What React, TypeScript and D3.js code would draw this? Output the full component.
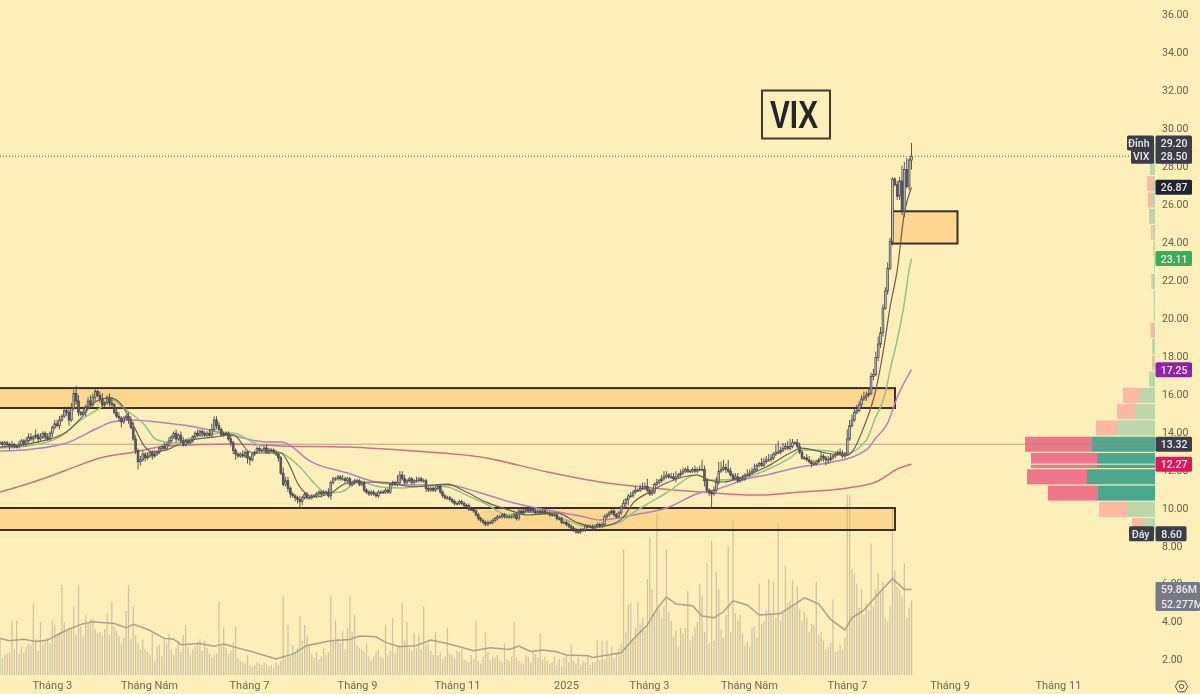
import { useEffect, useRef } from "react";
import * as d3 from "d3";

// session closes, ten sessions per row
const closes = [
  13.4,13.3,13.4,13.3,13.2,13.3,13.2,13.2,13.3,13.5,
  13.3,13.5,13.7,13.6,13.7,13.8,13.6,13.7,13.9,13.7,
  13.6,13.9,14.2,14.4,14.3,14.6,14.8,15.1,15.0,14.6,
  15.2,16.0,15.6,15.0,14.9,15.0,15.3,15.6,15.4,15.8,
  16.1,15.9,15.7,15.4,15.5,15.8,15.5,15.4,15.0,14.8,
  14.7,14.5,14.7,14.8,14.6,14.2,13.6,13.0,12.4,12.5,
  12.8,12.6,12.7,12.9,12.7,12.8,12.9,13.1,13.2,13.1,
  13.3,13.5,13.7,13.9,13.6,13.8,13.5,13.3,13.5,13.4,
  13.5,13.7,13.9,13.8,14.0,13.9,13.8,13.9,13.8,14.1,
  14.6,14.3,14.1,13.8,13.9,13.9,13.6,13.4,13.0,12.8,
  12.7,12.8,12.7,12.9,12.6,12.5,12.8,12.9,13.1,13.0,
  13.0,13.1,12.9,13.0,13.0,12.9,12.8,12.6,11.8,11.2,
  11.4,11.0,10.7,10.6,10.5,10.4,10.3,10.5,10.7,10.5,
  10.5,10.6,10.6,10.7,10.8,10.7,10.8,10.8,10.6,11.3,
  11.5,11.5,11.6,11.5,11.5,11.4,11.5,11.2,11.3,11.4,
  11.4,11.2,11.3,10.9,10.8,10.7,10.8,10.7,10.6,10.8,
  10.8,10.8,10.9,10.8,11.2,11.3,11.2,11.3,11.7,11.5,
  11.3,11.4,11.5,11.3,11.4,11.4,11.5,11.4,11.4,11.0,
  10.9,11.0,10.9,11.0,11.1,10.8,10.6,10.5,10.5,10.4,
  10.3,10.2,10.2,10.3,10.2,10.1,10.1,9.9,9.9,9.8,
  9.6,9.4,9.3,9.2,9.1,9.2,9.2,9.3,9.4,9.5,
  9.5,9.6,9.5,9.5,9.5,9.5,9.6,9.4,9.8,9.7,
  9.8,9.9,9.8,9.9,9.8,9.7,9.8,9.7,9.8,9.7,
  9.7,9.6,9.6,9.6,9.4,9.4,9.2,9.2,9.1,9.0,
  8.9,8.8,8.7,8.7,8.8,8.8,9.0,9.0,9.0,8.9,
  9.0,9.1,9.0,9.1,9.5,9.6,9.7,9.8,9.6,9.5,
  9.7,10.0,10.2,10.4,10.6,10.6,10.8,10.9,10.9,11.0,
  11.0,11.1,10.9,10.7,10.8,11.2,11.3,11.4,11.5,11.6,
  11.7,11.6,11.6,11.5,11.6,11.7,11.8,11.9,12.0,11.9,
  11.9,12.0,11.9,12.0,12.0,12.0,11.4,10.9,10.8,10.7,
  10.9,11.3,11.9,12.0,12.1,12.0,11.9,11.7,11.5,11.6,
  11.4,11.5,11.5,11.7,11.7,11.8,11.9,12.0,12.2,12.3,
  12.2,12.4,12.5,12.5,12.6,12.8,12.9,12.9,13.0,13.1,
  13.2,13.1,13.2,13.4,13.4,13.2,12.9,12.6,12.6,12.5,
  12.4,12.3,12.3,12.4,12.5,12.7,12.6,12.5,12.5,12.6,
  12.7,12.8,12.9,12.8,12.7,12.8,13.6,14.3,14.6,15.0,
  15.1,15.4,15.7,15.8,15.9,16.0,16.9,17.0,17.9,18.6,
  19.2,20.5,21.4,22.6,24.0,27.3,27.0,26.4,27.2,25.6,
  27.8,26.9,28.3,28.5,
];

const wickUp = [
  .1,.1,.1,.1,.1,.2,.1,.1,.2,.1, .1,.2,.2,.2,.1,.3,.1,.2,.1,.1,
  .2,.1,.1,.2,.2,.2,.1,.2,.1,.2, .3,.2,.4,.3,.1,.2,.1,.2,.3,.2,
  .2,.1,.2,.3,.1,.1,.2,.3,.1,.2, .2,.1,.1,.1,.2,.2,.3,.2,.1,.2,
  .2,.1,.2,.1,.1,.2,.1,.1,.1,.2, .1,.2,.1,.1,.2,.1,.2,.2,.1,.1,
  .1,.1,.1,.2,.1,.1,.1,.1,.2,.3, .2,.2,.2,.1,.1,.1,.1,.2,.1,.1,
  .1,.1,.2,.1,.1,.1,.1,.1,.1,.1, .1,.1,.2,.1,.1,.1,.1,.1,.1,.3,
  .2,.2,.1,.1,.1,.1,.2,.1,.1,.1, .1,.1,.1,.1,.1,.1,.1,.1,.2,.1,
  .1,.1,.1,.1,.2,.1,.1,.1,.1,.1, .1,.1,.1,.1,.1,.1,.1,.1,.1,.1,
  .1,.1,.1,.1,.1,.1,.1,.4,.2,.2, .2,.1,.1,.1,.1,.2,.1,.1,.1,.1,
  .1,.1,.1,.1,.1,.1,.1,.1,.1,.1, .1,.1,.1,.1,.1,.1,.1,.1,.1,.1,
  .1,.1,.1,.1,.1,.1,.1,.1,.1,.1, .1,.1,.1,.1,.1,.1,.1,.1,.1,.1,
  .1,.1,.1,.1,.1,.1,.1,.1,.1,.1, .1,.1,.1,.1,.1,.1,.1,.1,.1,.1,
  .1,.1,.1,.1,.1,.1,.1,.1,.1,.1, .1,.1,.1,.1,.1,.1,.1,.1,.1,.1,
  .1,.1,.2,.1,.1,.2,.1,.2,.1,.2, .3,.2,.4,.1,.2,.1,.2,.1,.2,.3,
  .2,.1,.2,.2,.3,.1,.2,.2,.1,.2, .1,.1,.2,.1,.2,.5,.2,.1,.1,.1,
  .2,.3,.5,.4,.4,.2,.5,.2,.1,.2, .2,.1,.2,.1,.3,.2,.2,.3,.1,.1,
  .3,.2,.2,.3,.2,.1,.4,.6,.2,.3, .2,.3,.4,.2,.1,.2,.2,.1,.1,.2,
  .2,.1,.2,.1,.1,.2,.1,.1,.2,.2, .1,.1,.1,.2,.2,.1,.5,.3,.3,.3,
  .3,.2,.2,.3,.2,.3,.2,.3,.3,.4, .3,.2,.2,.3,.2,.1,.1,.2,.2,.8,
  .4,.6,.1,.7,
];

const wickDown = [
  .1,.1,.1,.1,.2,.1,.1,.1,.1,.1, .1,.1,.1,.1,.2,.1,.2,.1,.1,.2,
  .1,.1,.2,.1,.1,.2,.1,.1,.2,.3, .1,.1,.2,.2,.1,.1,.2,.1,.1,.1,
  .2,.1,.2,.1,.2,.1,.2,.1,.1,.1, .2,.3,.1,.1,.2,.1,.1,.2,.4,.2,
  .1,.2,.1,.1,.2,.1,.1,.1,.1,.1, .1,.1,.1,.1,.2,.1,.1,.1,.1,.1,
  .1,.1,.1,.1,.1,.2,.1,.1,.1,.1, .1,.2,.1,.1,.1,.1,.1,.2,.2,.3,
  .1,.1,.1,.1,.3,.3,.1,.1,.1,.1, .1,.1,.1,.1,.1,.1,.1,.2,.1,.1,
  .1,.2,.2,.1,.2,.2,.3,.2,.1,.1, .1,.1,.1,.1,.1,.2,.1,.1,.1,.2,
  .1,.1,.1,.1,.1,.1,.1,.1,.1,.1, .1,.1,.1,.1,.1,.1,.1,.1,.1,.1,
  .1,.1,.1,.1,.1,.1,.1,.1,.1,.1, .1,.1,.1,.1,.1,.1,.1,.1,.1,.2,
  .1,.1,.1,.1,.1,.1,.1,.1,.1,.1, .1,.1,.1,.1,.1,.1,.1,.1,.1,.1,
  .1,.1,.1,.1,.1,.1,.1,.1,.1,.1, .1,.1,.1,.1,.1,.1,.1,.1,.1,.1,
  .1,.1,.1,.1,.1,.1,.1,.1,.1,.1, .1,.1,.1,.1,.1,.1,.1,.1,.1,.1,
  .1,.1,.1,.1,.1,.1,.1,.1,.1,.1, .1,.1,.1,.1,.1,.1,.1,.1,.1,.1,
  .1,.1,.1,.3,.3,.1,.1,.1,.1,.1, .1,.1,.1,.1,.1,.1,.1,.1,.1,.1,
  .1,.1,.1,.1,.2,.1,.1,.1,.1,.1, .1,.1,.1,.1,.1,.1,.3,.1,.2,.7,
  .1,.1,.1,.1,.1,.2,.1,.1,.1,.1, .1,.1,.1,.1,.1,.1,.1,.1,.1,.1,
  .1,.1,.1,.1,.1,.1,.1,.1,.1,.1, .1,.1,.1,.1,.1,.1,.1,.1,.1,.1,
  .1,.2,.1,.1,.1,.1,.2,.3,.2,.1, .1,.1,.1,.1,.1,.1,.1,.1,.1,.1,
  .1,.1,.1,.1,.2,.1,.1,.2,.1,.2, .2,.2,.1,.2,.1,.2,.1,.2,.2,.2,
  .3,.1,.2,.5,
];

// volume in millions per session
const volumes = [
  26,12,14,15,16,38,18,38,15,20, 16,20,22,21,50,25,17,37,22,24,
  26,22,38,35,28,30,63,37,31,33, 32,48,28,63,34,27,42,36,39,40,
  32,29,30,28,32,43,28,51,34,31, 27,22,26,45,63,25,48,28,22,18,
  25,18,16,14,29,10,20,21,13,25, 22,29,18,14,19,24,16,28,35,20,
  14,18,20,23,25,17,24,19,15,12, 14,15,51,20,33,19,15,17,23,34,
  12,10,9,8,14,7,6,7,9,8, 7,9,8,6,7,5,9,7,10,55,
  12,35,13,21,16,19,41,24,35,27, 20,15,12,16,11,13,19,14,16,55,
  24,38,26,22,31,18,33,55,30,42, 21,19,18,16,22,13,10,13,16,17,
  13,12,35,14,17,40,15,20,21,50, 24,37,19,17,29,19,28,18,48,21,
  22,17,14,30,14,16,11,13,33,15, 14,12,17,16,18,11,10,9,14,11,
  38,10,8,13,30,16,10,13,12,14, 10,9,22,11,10,13,37,12,10,8,
  8,14,13,9,16,15,12,29,11,13, 10,8,9,13,7,11,6,12,14,9,
  21,10,8,12,7,10,9,13,7,9, 9,24,10,24,11,24,13,20,12,16,
  18,22,88,30,49,50,26,33,51,36, 40,31,67,96,60,42,113,46,40,48,
  88,44,38,27,31,20,33,29,33,59, 24,27,33,37,64,55,30,78,22,94,
  24,72,60,32,26,42,90,30,109,43, 38,42,29,21,23,20,33,34,26,64,
  36,38,45,67,42,65,40,106,38,45, 76,50,52,66,48,62,46,38,44,40,
  30,36,35,65,28,30,24,18,20,22, 53,16,17,21,18,26,126,126,74,71,
  64,47,60,42,50,45,92,48,60,71, 58,65,40,38,48,117,73,62,60,55,
  78,40,47,52,
];

const volMaIdx = [0,4,10,15,20,24,28,34,39,48,53,56,62,69,73,76,84,90,94,99,106,116,123,129,139,147,151,158,162,168,175,181,188,193,199,206,214,218,223,228,234,238,247,249,261,266,272,276,280,284,291,295,300,304,308,314,319,328,338,344,349,355,358,363,370,375,380,383];
const volMaVal = [25.6,24,25,23.5,24.4,28,31.4,35.4,37.2,36,33,35.4,32,25.6,25,21.2,22,20.2,21.6,19.3,16.3,11.2,14.6,20.7,24,24.9,27.2,26.7,22.8,19.8,20.7,24.4,22,19.8,16.9,19.1,17.9,20.2,16.5,17.4,16.3,14,13.5,12.3,15.6,25,35,46,54.6,49.7,48.4,41.2,40,44.2,51.9,49,41.9,43,53.9,49.8,38.9,31.6,40,45.3,58.6,67.4,59.8,59.86];

const fastIdx = [0,14,28,34,40,46,50,53,56,61,64,70,78,90,98,105,109,118,122,125,127,132,139,146,160,174,188,196,204,214,222,234,242,250,256,262,266,273,280,293,298,304,312,322,332,337,347,356,363,368,371,374,377,380,383];
const fastVal = [13.17,13.39,13.97,14.7,15.55,15.76,15.55,15.02,14.33,13.17,12.91,13.02,13.49,13.7,13.81,12.91,12.86,12.86,12.12,11.28,10.91,10.54,10.75,11.28,11.33,11.07,11.22,10.8,10.28,9.85,9.59,9.7,9.22,8.96,9.06,9.48,10.22,10.8,11.28,11.7,11.43,11.33,11.6,12.12,12.86,13.12,12.86,12.75,14.23,16.18,18.13,20.55,22.5,25.5,26.87];

const greenIdx = [0,14,25,34,42,47,53,60,66,73,84,98,106,112,120,126,132,137,143,151,160,169,178,188,196,205,213,221,230,238,247,255,260,266,280,293,298,302,312,322,332,337,343,356,364,368,370,372,374,377,380,382,383];
const greenVal = [13.12,13.28,13.7,14.6,15.23,15.65,15.12,14.44,13.54,13.39,13.81,13.91,13.44,13.12,12.75,12.12,11.28,10.75,10.8,11.33,11.07,11.01,11.17,11.07,10.64,10.12,9.6,9.75,9.7,9.33,8.96,9.06,9.17,9.7,10.75,11.7,11.43,11.43,11.54,11.96,12.6,13.02,13.02,12.86,13.54,14.76,15.28,16.02,17.23,18.82,20.77,22.5,23.11];

const purpleIdx = [0,14,28,42,47,55,70,84,97,112,118,131,146,160,174,188,202,216,230,244,252,260,266,280,294,300,315,322,336,350,364,368,373,377,383];
const purpleVal = [12.96,13.07,13.39,14.23,14.49,14.6,14.44,14.18,13.81,13.44,13.44,12.38,11.8,11.28,11.17,11.17,10.75,10.22,9.85,9.54,9.33,9.43,9.59,9.96,10.75,10.9,11.54,11.7,12.12,12.38,13.02,13.65,14.44,15.8,17.25];

const redIdx = [0,14,28,42,56,70,98,118,146,174,202,230,252,266,294,318,336,356,368,378,383];
const redVal = [10.8,11.33,11.96,12.6,12.9,13.23,13.33,13.23,13.17,12.96,12.65,11.86,11.33,11.12,10.8,10.64,10.8,11.01,11.33,12.07,12.27];

// volume by price, 24 bins from the low to the high, bottom bin first
const profileUp = [12,27,57,68,58,63,37,20,16,5,2,3,2,1.3,1.3,3.5,1,1.5,2.5,6,3,2,5,3];
const profileDown = [11,29,50,60,66,67,22,18,16,1,1,0,2.5,0,0,0.3,0,0,1.5,0,4,6,0,2];
const valueAreaBins = [2,3,4,5];

const priceTicks = [36,34,32,30,28,26,24,22,20,18,16,14,12,10,8,6,4,2];
const monthIdx = [21.8,62.6,104.6,150,192,237.8,272.7,314.7,355.9,399,444.5];
const monthLabels = ["Tháng 3","Tháng Năm","Tháng 7","Tháng 9","Tháng 11","2025","Tháng 3","Tháng Năm","Tháng 7","Tháng 9","Tháng 11"];

const highPrice = 29.2;
const lastPrice = 28.5;
const lowPrice = 8.6;
const pocPrice = 13.32;

const upperZone = [16.28, 15.23];
const lowerZone = [9.96, 8.8];
const topZone = [25.6, 23.9];

const FONT = "Roboto, sans-serif";
const BG = "#fdefba";

const width = 1200;
const height = 694;

const xScale = d3.scaleLinear().domain([0, 383]).range([0, 911.5]);
const yPrice = d3.scaleLinear().domain([36, 2]).range([14, 659]);
const yVolume = d3.scaleLinear().domain([0, 100]).range([675, 532]);
const profileWidth = d3.scaleLinear().domain([0, 1]).range([0, 1]);

const PriceAxis = () => {
  const ref = useRef<SVGGElement>(null);
  useEffect(() => {
    if (ref.current) {
      const axis = d3.axisRight(yPrice).tickValues(priceTicks).tickSize(0).tickPadding(6)
        .tickFormat((d) => d3.format(".2f")(d as number));
      const g = d3.select(ref.current).call(axis);
      g.select(".domain").remove();
      g.selectAll("text").attr("fill", "#5f5c50").attr("font-family", FONT).attr("font-size", 10.5);
    }
  }, []);
  return <g ref={ref} transform="translate(1156,0.5)" />;
};

const DateAxis = () => {
  const ref = useRef<SVGGElement>(null);
  useEffect(() => {
    if (ref.current) {
      const axis = d3.axisBottom(xScale).tickValues(monthIdx).tickSize(0).tickPadding(6)
        .tickFormat((_, i) => monthLabels[i]);
      const g = d3.select(ref.current).call(axis);
      g.select(".domain").remove();
      g.selectAll("text").attr("fill", "#6b6858").attr("font-family", FONT).attr("font-size", 11);
    }
  }, []);
  return <g ref={ref} transform="translate(0,675)" />;
};

const Candles = () => (
  <g>
    {closes.map((close, i) => {
      const open = i === 0 ? close : closes[i - 1];
      const x = xScale(i);
      const hi = Math.max(open, close) + wickUp[i];
      const lo = Math.min(open, close) - wickDown[i];
      const top = yPrice(Math.max(open, close));
      const bottom = yPrice(Math.min(open, close));
      return (
        <g key={i}>
          <line x1={x} x2={x} y1={yPrice(hi)} y2={yPrice(lo)} stroke="#45454d" strokeWidth={0.9} />
          <rect
            x={x - 0.9}
            y={top}
            width={1.8}
            height={Math.max(bottom - top, 0.8)}
            fill={close >= open ? "#babcc1" : "#5c5c66"}
            stroke="#45454d"
            strokeWidth={0.7}
          />
        </g>
      );
    })}
  </g>
);

const AvgLine = ({ idx, values, color, w, y, curve = d3.curveMonotoneX }: { idx: number[]; values: number[]; color: string; w: number; y: d3.ScaleLinear<number, number>; curve?: d3.CurveFactory }) => {
  const path = d3.line<number>()
    .x((d) => xScale(d))
    .y((_, i) => y(values[i]))
    .curve(curve)(idx);
  return <path d={path ?? ""} fill="none" stroke={color} strokeWidth={w} />;
};

const Zone = ({ band, x1, x2 }: { band: number[]; x1: number; x2: number }) => (
  <rect
    x={x1}
    y={yPrice(band[0])}
    width={x2 - x1}
    height={yPrice(band[1]) - yPrice(band[0])}
    fill="#fdb455"
    fillOpacity={0.42}
    stroke="#38322a"
    strokeWidth={2}
  />
);

const Profile = () => {
  const binSize = (highPrice - lowPrice) / 24;
  const right = 1155;
  return (
    <g>
      {profileUp.map((up, k) => {
        const top = yPrice(lowPrice + (k + 1) * binSize) + 0.6;
        const h = yPrice(lowPrice + k * binSize) - top - 0.6;
        const strong = valueAreaBins.includes(k);
        const upW = profileWidth(up);
        const downW = profileWidth(profileDown[k]);
        return (
          <g key={k}>
            <rect x={right - upW} y={top} width={upW} height={h} fill={strong ? "#4ca78f" : "#bdd6a9"} />
            <rect x={right - upW - downW} y={top} width={downW} height={h} fill={strong ? "#ef7789" : "#fbb9a1"} />
          </g>
        );
      })}
    </g>
  );
};

const Tag = ({ x, y, w, text, fill, color = "#eceae4", h = 15 }: { x: number; y: number; w: number; text: string; fill: string; color?: string; h?: number }) => (
  <g>
    <rect x={x} y={y - h / 2} width={w} height={h} rx={1.5} fill={fill} />
    <text x={x + w - 4.5} y={y + 4} textAnchor="end" fontFamily={FONT} fontSize={10.5} fontWeight={500} fill={color}>
      {text}
    </text>
  </g>
);

const SettingsIcon = () => {
  const hex = d3.lineRadial<number>().angle((d) => d).radius(6.2).curve(d3.curveLinearClosed)(d3.range(6).map((k) => (k * Math.PI) / 3 + Math.PI / 2));
  return (
    <g transform="translate(1181.5,686.5)" fill="none" stroke="#55524a" strokeWidth={1}>
      <path d={hex ?? ""} />
      <circle r={2.2} />
    </g>
  );
};

export default function App() {
  return (
    <svg
      width={width}
      height={height}
      style={{ position: "absolute", left: 0, top: 0, display: "block", background: BG, filter: "blur(0.4px)" }}
    >
      <rect width={width} height={height} fill={BG} />

      <g>
        {volumes.map((v, i) => (
          <line key={i} x1={xScale(i)} x2={xScale(i)} y1={yVolume(0)} y2={yVolume(v)} stroke="#c4bc9c" strokeWidth={1.25} strokeOpacity={0.85} />
        ))}
      </g>
      <AvgLine idx={volMaIdx} values={volMaVal} color="#a9a18b" w={1.5} y={yVolume} curve={d3.curveLinear} />

      <Profile />
      <line x1={1027} x2={1155} y1={yPrice(12.27)} y2={yPrice(12.27)} stroke="#f4f2df" strokeWidth={1} />

      <line x1={0} x2={1155} y1={yPrice(pocPrice)} y2={yPrice(pocPrice)} stroke="#9b8f78" strokeOpacity={0.8} strokeWidth={1} />

      <Zone band={upperZone} x1={-5} x2={895} />
      <Zone band={lowerZone} x1={-5} x2={895} />
      <Zone band={topZone} x1={892} x2={957.5} />

      <AvgLine idx={redIdx} values={redVal} color="#cc7285" w={1.5} y={yPrice} />
      <AvgLine idx={purpleIdx} values={purpleVal} color="#b083b8" w={1.5} y={yPrice} />
      <AvgLine idx={greenIdx} values={greenVal} color="#93c285" w={1.5} y={yPrice} />
      <Candles />
      <AvgLine idx={fastIdx} values={fastVal} color="#6a5e4e" w={1.2} y={yPrice} />

      <line x1={0} x2={1131} y1={yPrice(lastPrice)} y2={yPrice(lastPrice)} stroke="#57544a" strokeWidth={1} strokeDasharray="1 2" />

      <PriceAxis />
      <DateAxis />

      <Tag x={1127} y={yPrice(highPrice)} w={27} text="Đỉnh" fill="#3c3d4b" />
      <Tag x={1155.5} y={yPrice(highPrice)} w={36.5} text="29.20" fill="#3c3d4b" />
      <Tag x={1131} y={yPrice(lastPrice)} w={23} text="VIX" fill="#3c3d4b" />
      <Tag x={1155.5} y={yPrice(lastPrice)} w={36.5} text="28.50" fill="#3c3d4b" />
      <Tag x={1155.5} y={yPrice(26.87)} w={36.5} text="26.87" fill="#1f2430" />
      <Tag x={1155.5} y={yPrice(23.11)} w={36.5} text="23.11" fill="#3aad58" />
      <Tag x={1155.5} y={yPrice(17.25)} w={36.5} text="17.25" fill="#8f22a8" />
      <Tag x={1155.5} y={yPrice(pocPrice)} w={36.5} text="13.32" fill="#3c3d4b" />
      <Tag x={1155.5} y={yPrice(12.27)} w={36.5} text="12.27" fill="#e0175f" />
      <Tag x={1129} y={yPrice(lowPrice)} w={25} text="Đáy" fill="#3c3d4b" />
      <Tag x={1155.5} y={yPrice(lowPrice)} w={31} text="8.60" fill="#3c3d4b" />

      <rect x={1155.5} y={582} width={44.5} height={29} rx={1.5} fill="#767a86" />
      <text x={1161} y={593} fontFamily={FONT} fontSize={10.5} fontWeight={500} fill="#eceae4">59.86M</text>
      <text x={1161} y={608} fontFamily={FONT} fontSize={10.5} fontWeight={500} fill="#eceae4">52.277M</text>

      <SettingsIcon />

      <rect x={762} y={90.5} width={68} height={48} fill={BG} stroke="#3f3b33" strokeWidth={2} />
      <text x={794} y={128} textAnchor="middle" textLength={48} lengthAdjust="spacingAndGlyphs" fontFamily="'Liberation Sans', sans-serif" fontWeight={700} fontSize={38} fill="#23252b">VIX</text>
    </svg>
  );
}
